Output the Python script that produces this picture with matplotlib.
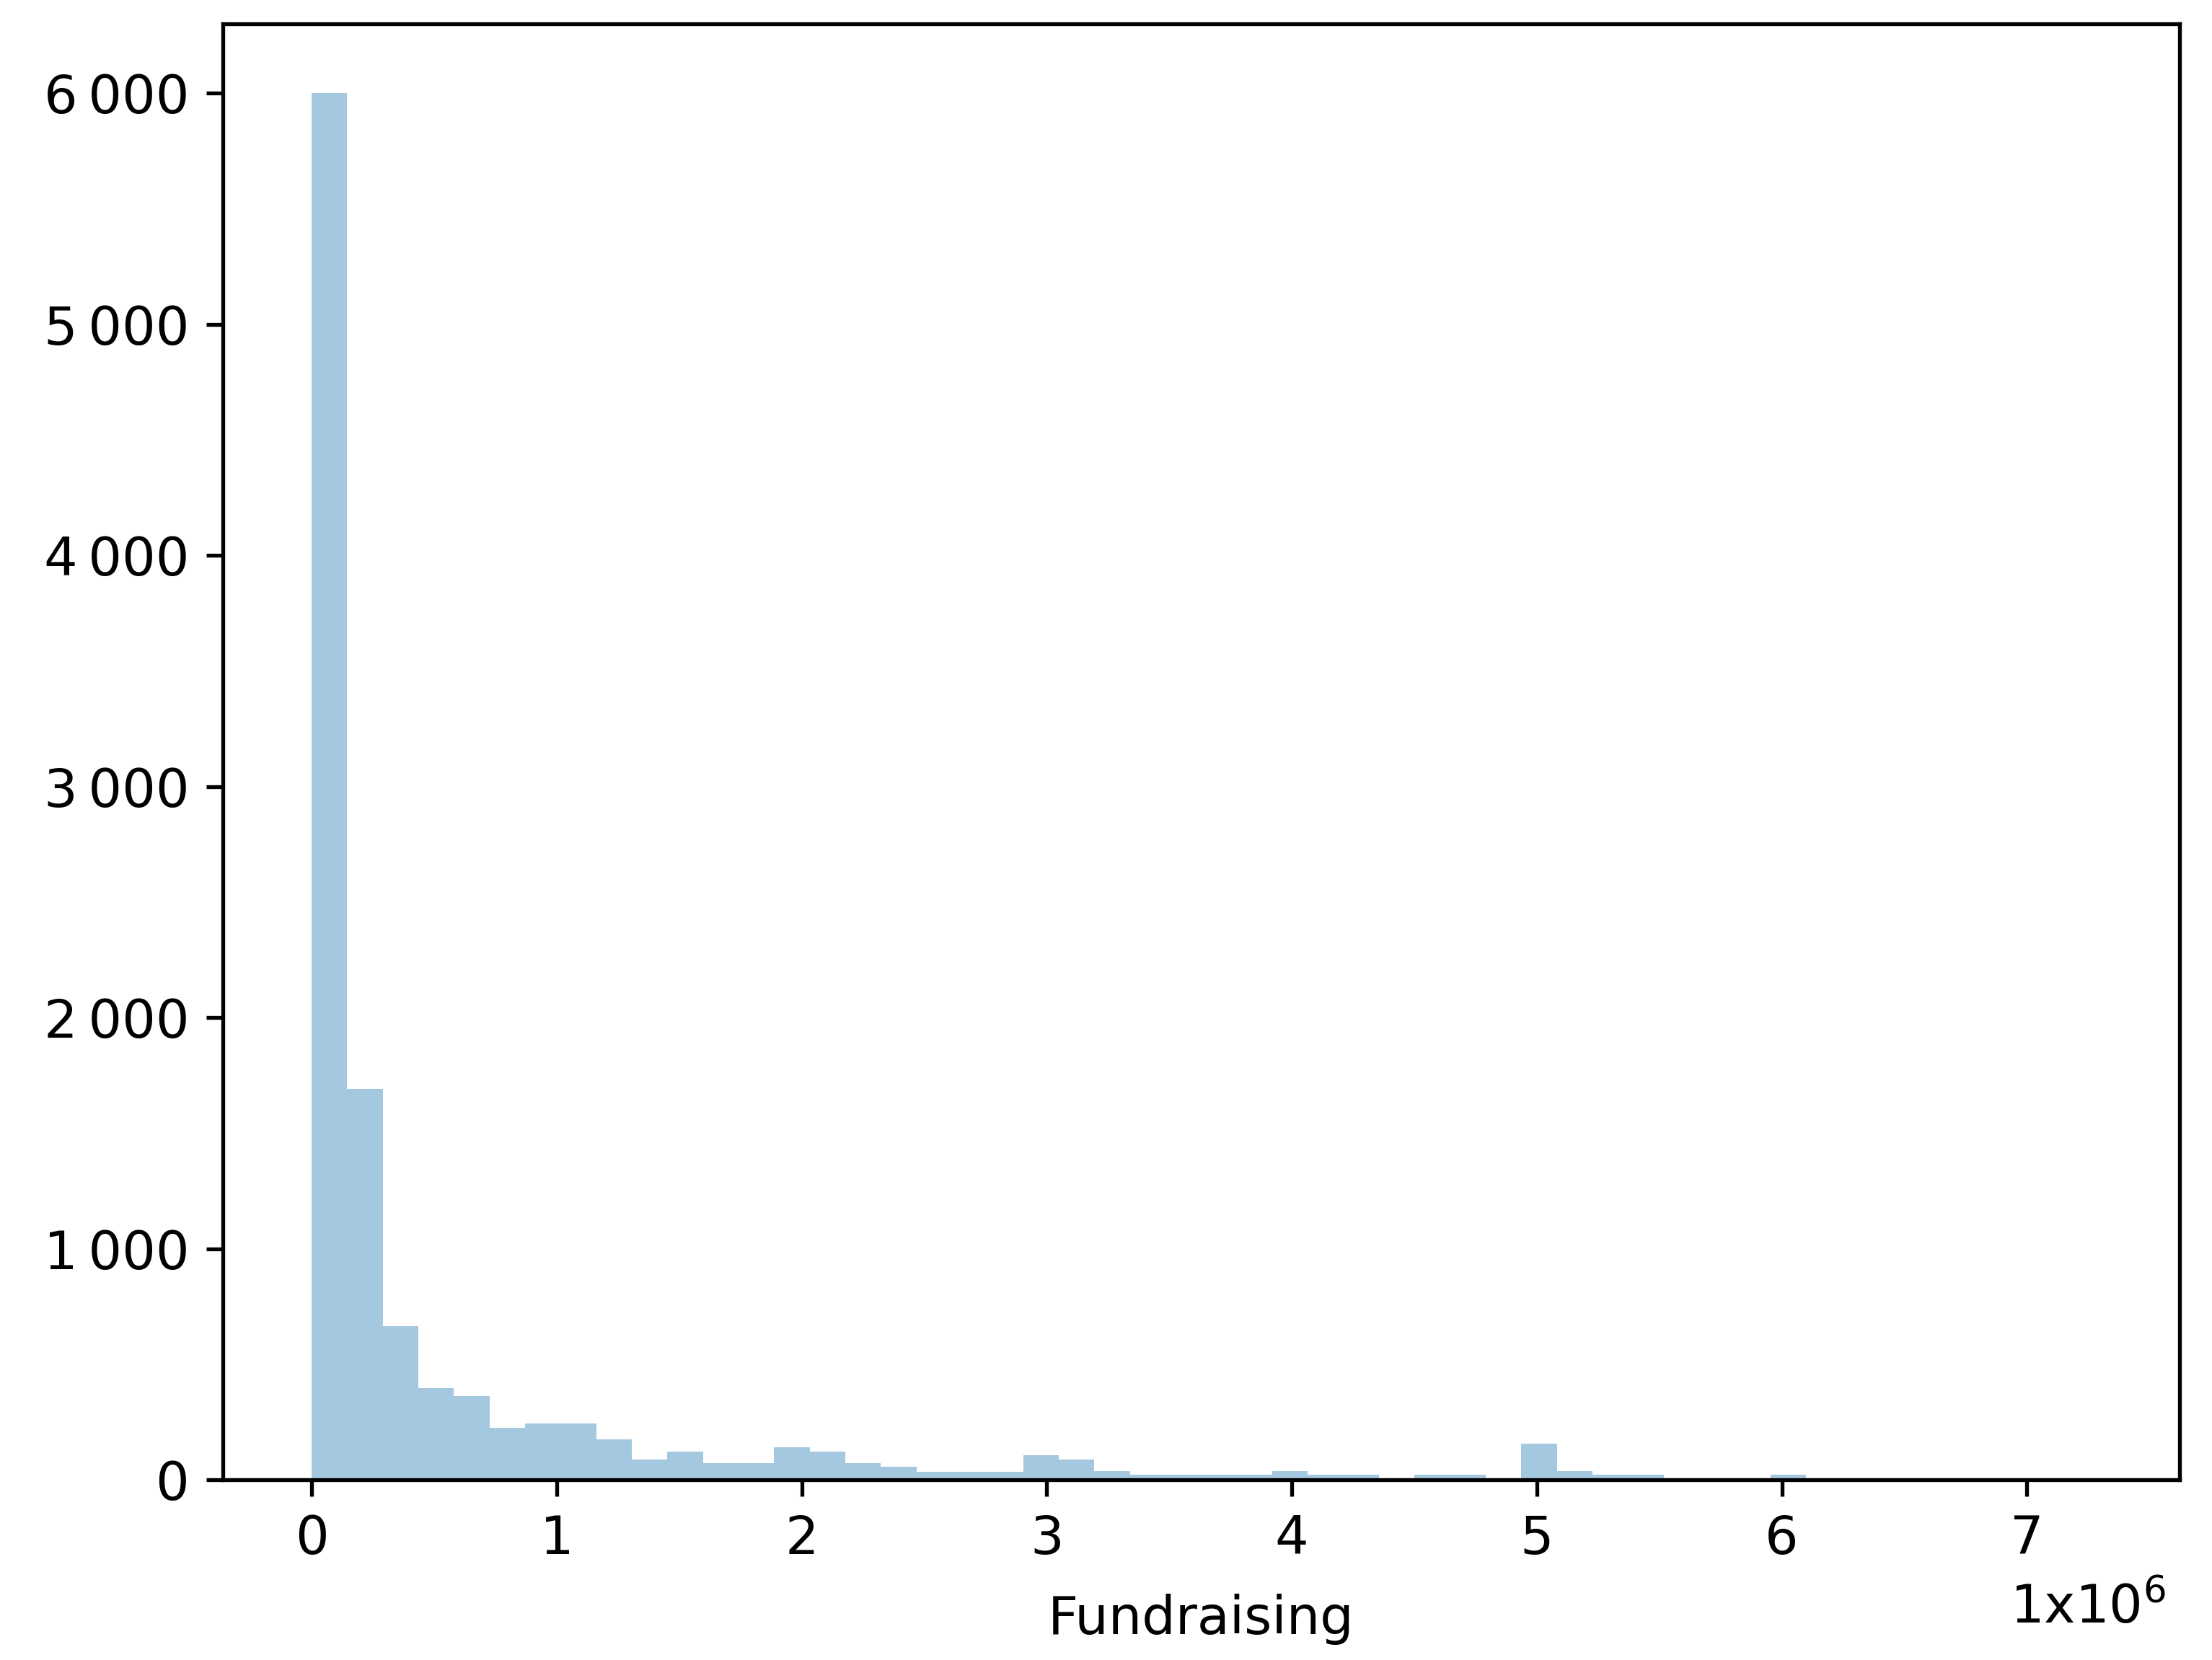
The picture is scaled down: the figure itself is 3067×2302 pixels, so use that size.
import numpy as np
from matplotlib import pyplot as plt
from matplotlib.ticker import FuncFormatter

# histogram counts, 50 equal bins from 0 to ~7.26 million
bin_max = 7.26e6
counts = [6000, 1690, 666, 395, 362, 225, 242, 242, 174, 88,
          121, 72, 72, 139, 121, 72, 56, 35, 35, 35,
          105, 88, 38, 23, 23, 23, 23, 38, 23, 23,
          0, 23, 23, 0, 155, 38, 23, 23, 0, 0,
          0, 22, 0, 0, 0, 0, 0, 0, 0, 1]
x_ticks = [0, 1, 2, 3, 4, 5, 6, 7]
y_ticks = [0, 1000, 2000, 3000, 4000, 5000, 6000]

edges = np.linspace(0, bin_max, len(counts) + 1)
centers = (edges[:-1] + edges[1:]) / 2

plt.rcParams['font.size'] = 11
fig, ax = plt.subplots(figsize=(3067 / 480, 2302 / 480), dpi=480)
fig.subplots_adjust(left=0.1007, right=0.9853, top=0.9857, bottom=0.1086)

ax.hist(centers, bins=edges, weights=counts, color="C0", alpha=0.4)

ax.set_xticks([t * 1e6 for t in x_ticks])
ax.xaxis.set_major_formatter(FuncFormatter(lambda v, p: f"{v / 1e6:g}"))
ax.set_yticks(y_ticks)
ax.yaxis.set_major_formatter(FuncFormatter(lambda v, p: f"{int(v):,}".replace(",", "\u2009")))

ax.set_xlabel("Fundraising", labelpad=6)
fig.text(0.979, 0.031, r"$\mathregular{1x10^{6}}$", ha="right", va="center", fontsize=11)

plt.savefig("out.png", dpi=480)
